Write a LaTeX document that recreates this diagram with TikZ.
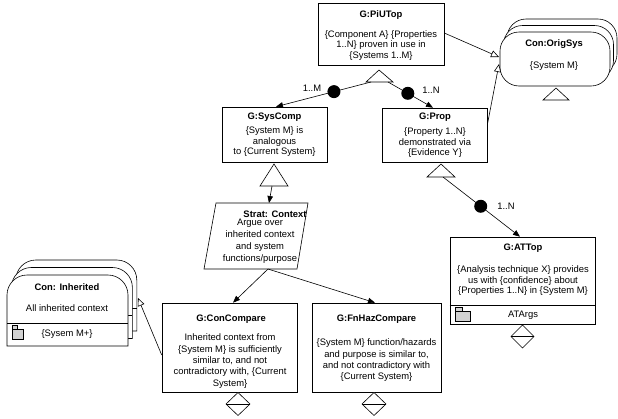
\documentclass[tikz,border=0pt]{standalone}
\usepackage{fontspec}
\setmainfont{Liberation Sans}
\usetikzlibrary{arrows.meta,shadows}
\newcommand\InhShape{\draw[ln, fill=white] (7,346) -- (7,295) arc[start angle=180, end angle=270, radius=20] -- (108,275) arc[start angle=270, end angle=360, radius=20] -- (128,346) -- cycle; \draw[ln] (7,323) -- (128,323);}
\newcommand\OSShape{\draw[ln, fill=white, rounded corners=19pt] (500,32) rectangle (610,86);}
\begin{document}
\begin{tikzpicture}[x=1pt,y=-1pt,
  ln/.style={line width=0.6pt},
  gbox/.style={draw, line width=0.6pt, fill=white, rectangle, inner sep=0pt,
     general shadow={fill=black, shadow xshift=0.9pt, shadow yshift=-0.9pt}},
  ttl/.style={font=\fontsize{9.4}{10.5}\selectfont\bfseries, inner sep=0pt},
  bdy/.style={font=\fontsize{9.4}{10.5}\selectfont, align=center, inner sep=0pt},
  bdyw/.style={font=\fontsize{9.4}{11.3}\selectfont, align=center, inner sep=0pt},
  bdys/.style={font=\fontsize{9.4}{12}\selectfont, align=center, inner sep=0pt},
  dotn/.style={circle, fill=black, minimum size=13pt, inner sep=0pt},
  sarr/.style={line width=0.6pt, -{Triangle[length=7pt,width=5.5pt]}},
  oarr/.style={line width=0.6pt, -{Triangle[open,length=8pt,width=7pt,fill=white]}},
  lbl/.style={font=\fontsize{9.4}{10.5}\selectfont, inner sep=0pt},
  fold/.style={line width=0.6pt, fill=gray!35},
]
\useasboundingbox (0,0) rectangle (618,418);

% Con: Inherited (stacked)
\begin{scope}[shift={(8.8,-15)}] \InhShape \end{scope}
\begin{scope}[shift={(4.4,-7.5)}] \InhShape \end{scope}
\InhShape
\draw[fold] (12,339) -- (12,325) -- (17,325) -- (17,329) -- (23,329) -- (23,339) -- cycle;
\draw[line width=0.6pt] (12,329) -- (17,329);
\node[ttl] (inht) at (67,287) {Con: Inherited};
\node[bdy] (inhb) at (67,308) {All inherited context};
\node[bdy] (inhc) at (67,334) {\{Sysem M+\}};
\coordinate (inhR) at (138,298);

% Con:OrigSys (stacked)
\begin{scope}[shift={(7,-13)}] \OSShape \end{scope}
\begin{scope}[shift={(3.5,-6.5)}] \OSShape \end{scope}
\OSShape
\node[ttl] (ost) at (554,44) {Con:OrigSys};
\node[bdy] (osb) at (554,66) {\{System M\}};
\draw[ln, fill=white] (543,100) -- (556,88) -- (569,100) -- cycle;
\coordinate (osA) at (499,57);
\coordinate (osB) at (499,64);

% Goal boxes
\node[gbox, minimum width=126pt, minimum height=62pt] (piu) at (381,34) {};
\node[gbox, minimum width=105pt, minimum height=55pt] (sysc) at (274.5,134.5) {};
\node[gbox, minimum width=105pt, minimum height=54pt] (prop) at (434.5,135) {};
\node[gbox, minimum width=135pt, minimum height=89pt] (cc) at (229.5,347.5) {};
\node[gbox, minimum width=129pt, minimum height=89pt] (fh) at (376.5,347.5) {};
\node[gbox, minimum width=145pt, minimum height=87pt] (at) at (522.5,280.5) {};
\draw[ln] (at.west |- 0,305) -- (at.east |- 0,305);
\draw[fold] (455,321) -- (455,307) -- (462,307) -- (462,311) -- (470,311) -- (470,321) -- cycle;
\draw[line width=0.6pt] (455,311) -- (462,311);

% Strategy
\draw[ln, fill=white] (216,203) -- (308,203) -- (297,269) -- (204,269) -- cycle;
\coordinate (stratT) at (269,203);
\coordinate (stratB) at (268,269);

% support triangles
\draw[ln, fill=white] (366,82) -- (379,70) -- (393,82) -- cycle;
\draw[ln, fill=white] (260,186) -- (274,164) -- (288,186) -- cycle;
\draw[ln, fill=white] (427,177) -- (441,164) -- (455,177) -- cycle;
\coordinate (piuL) at (371,82);
\coordinate (piuR) at (388,82);
\coordinate (syscB) at (272,186);
\coordinate (propB) at (443,177);

% diamonds
\draw[ln, fill=white] (226,404) -- (238,392.5) -- (250,404) -- (238,415.5) -- cycle;
\draw[ln] (226,404) -- (250,404);
\draw[ln, fill=white] (362,404) -- (374,392.5) -- (386,404) -- (374,415.5) -- cycle;
\draw[ln] (362,404) -- (386,404);
\draw[ln, fill=white] (511,336.5) -- (522.5,325) -- (534,336.5) -- (522.5,348) -- cycle;
\draw[ln] (511,336.5) -- (534,336.5);

% connectors
\draw[sarr] (piuL) -- node[dotn, pos=0.39] (d1) {} ([xshift=1.5pt]sysc.north);
\draw[sarr] (piuR) -- node[dotn, pos=0.44] (d2) {} ([xshift=-1.5pt]prop.north);
\draw[sarr] (propB) -- node[dotn, pos=0.49] (d3) {} ([xshift=-2.5pt]at.north);
\draw[sarr] (syscB) -- (stratT);
\draw[sarr] (stratB) -- ([xshift=3.5pt]cc.north);
\draw[sarr] (stratB) -- ([xshift=-1.5pt]fh.north);
\draw[oarr] ([yshift=1pt]piu.east) -- (osA);
\draw[oarr] ([yshift=10pt]prop.east) -- (osB);
\draw[oarr] ([yshift=-7.5pt]cc.west) -- (inhR);

\node[lbl] (l1) at (312,88) {1..M};
\node[lbl] (l2) at (431,90) {1..N};
\node[lbl] (l3) at (506,206) {1..N};

% texts
\node[ttl] (piut) at (381,15) {G:PiUTop};
\node[bdy] (piub) at (381,45.5) {\{Component A\} \{Properties\\1..N\} proven in use in\\\{Systems 1..M\}};
\node[ttl] (sysct) at (274.5,117) {G:SysComp};
\node[bdy] (syscb) at (274.5,142) {\{System M\} is\\analogous\\to \{Current System\}};
\node[ttl] (propt) at (435,117) {G:Prop};
\node[bdy] (propb) at (435,143) {\{Property 1..N\}\\demonstrated via\\\{Evidence Y\}};
\node[ttl] (stratt) at (275,214) {Strat: Context};
\node[bdys] (stratb) at (260,241.5) {Argue over\\inherited context\\and system\\functions/purpose};
\node[ttl] (cct) at (231,319) {G:ConCompare};
\node[bdyw] (ccb) at (230,361) {Inherited context from\\\{System M\} is sufficiently\\similar to, and not\\contradictory with, \{Current\\System\}};
\node[ttl] (fht) at (376.5,319) {G:FnHazCompare};
\node[bdyw] (fhb) at (376.5,360.5) {\{System M\} function/hazards\\and purpose is similar to,\\and not contradictory with\\\{Current System\}};
\node[ttl] (att) at (523,248) {G:ATTop};
\node[bdy] (atb) at (523,281) {\{Analysis technique X\} provides\\us with \{confidence\} about\\\{Properties 1..N\} in \{System M\}};
\node[bdy] (atc) at (523,315.5) {ATArgs};
\end{tikzpicture}
\end{document}
